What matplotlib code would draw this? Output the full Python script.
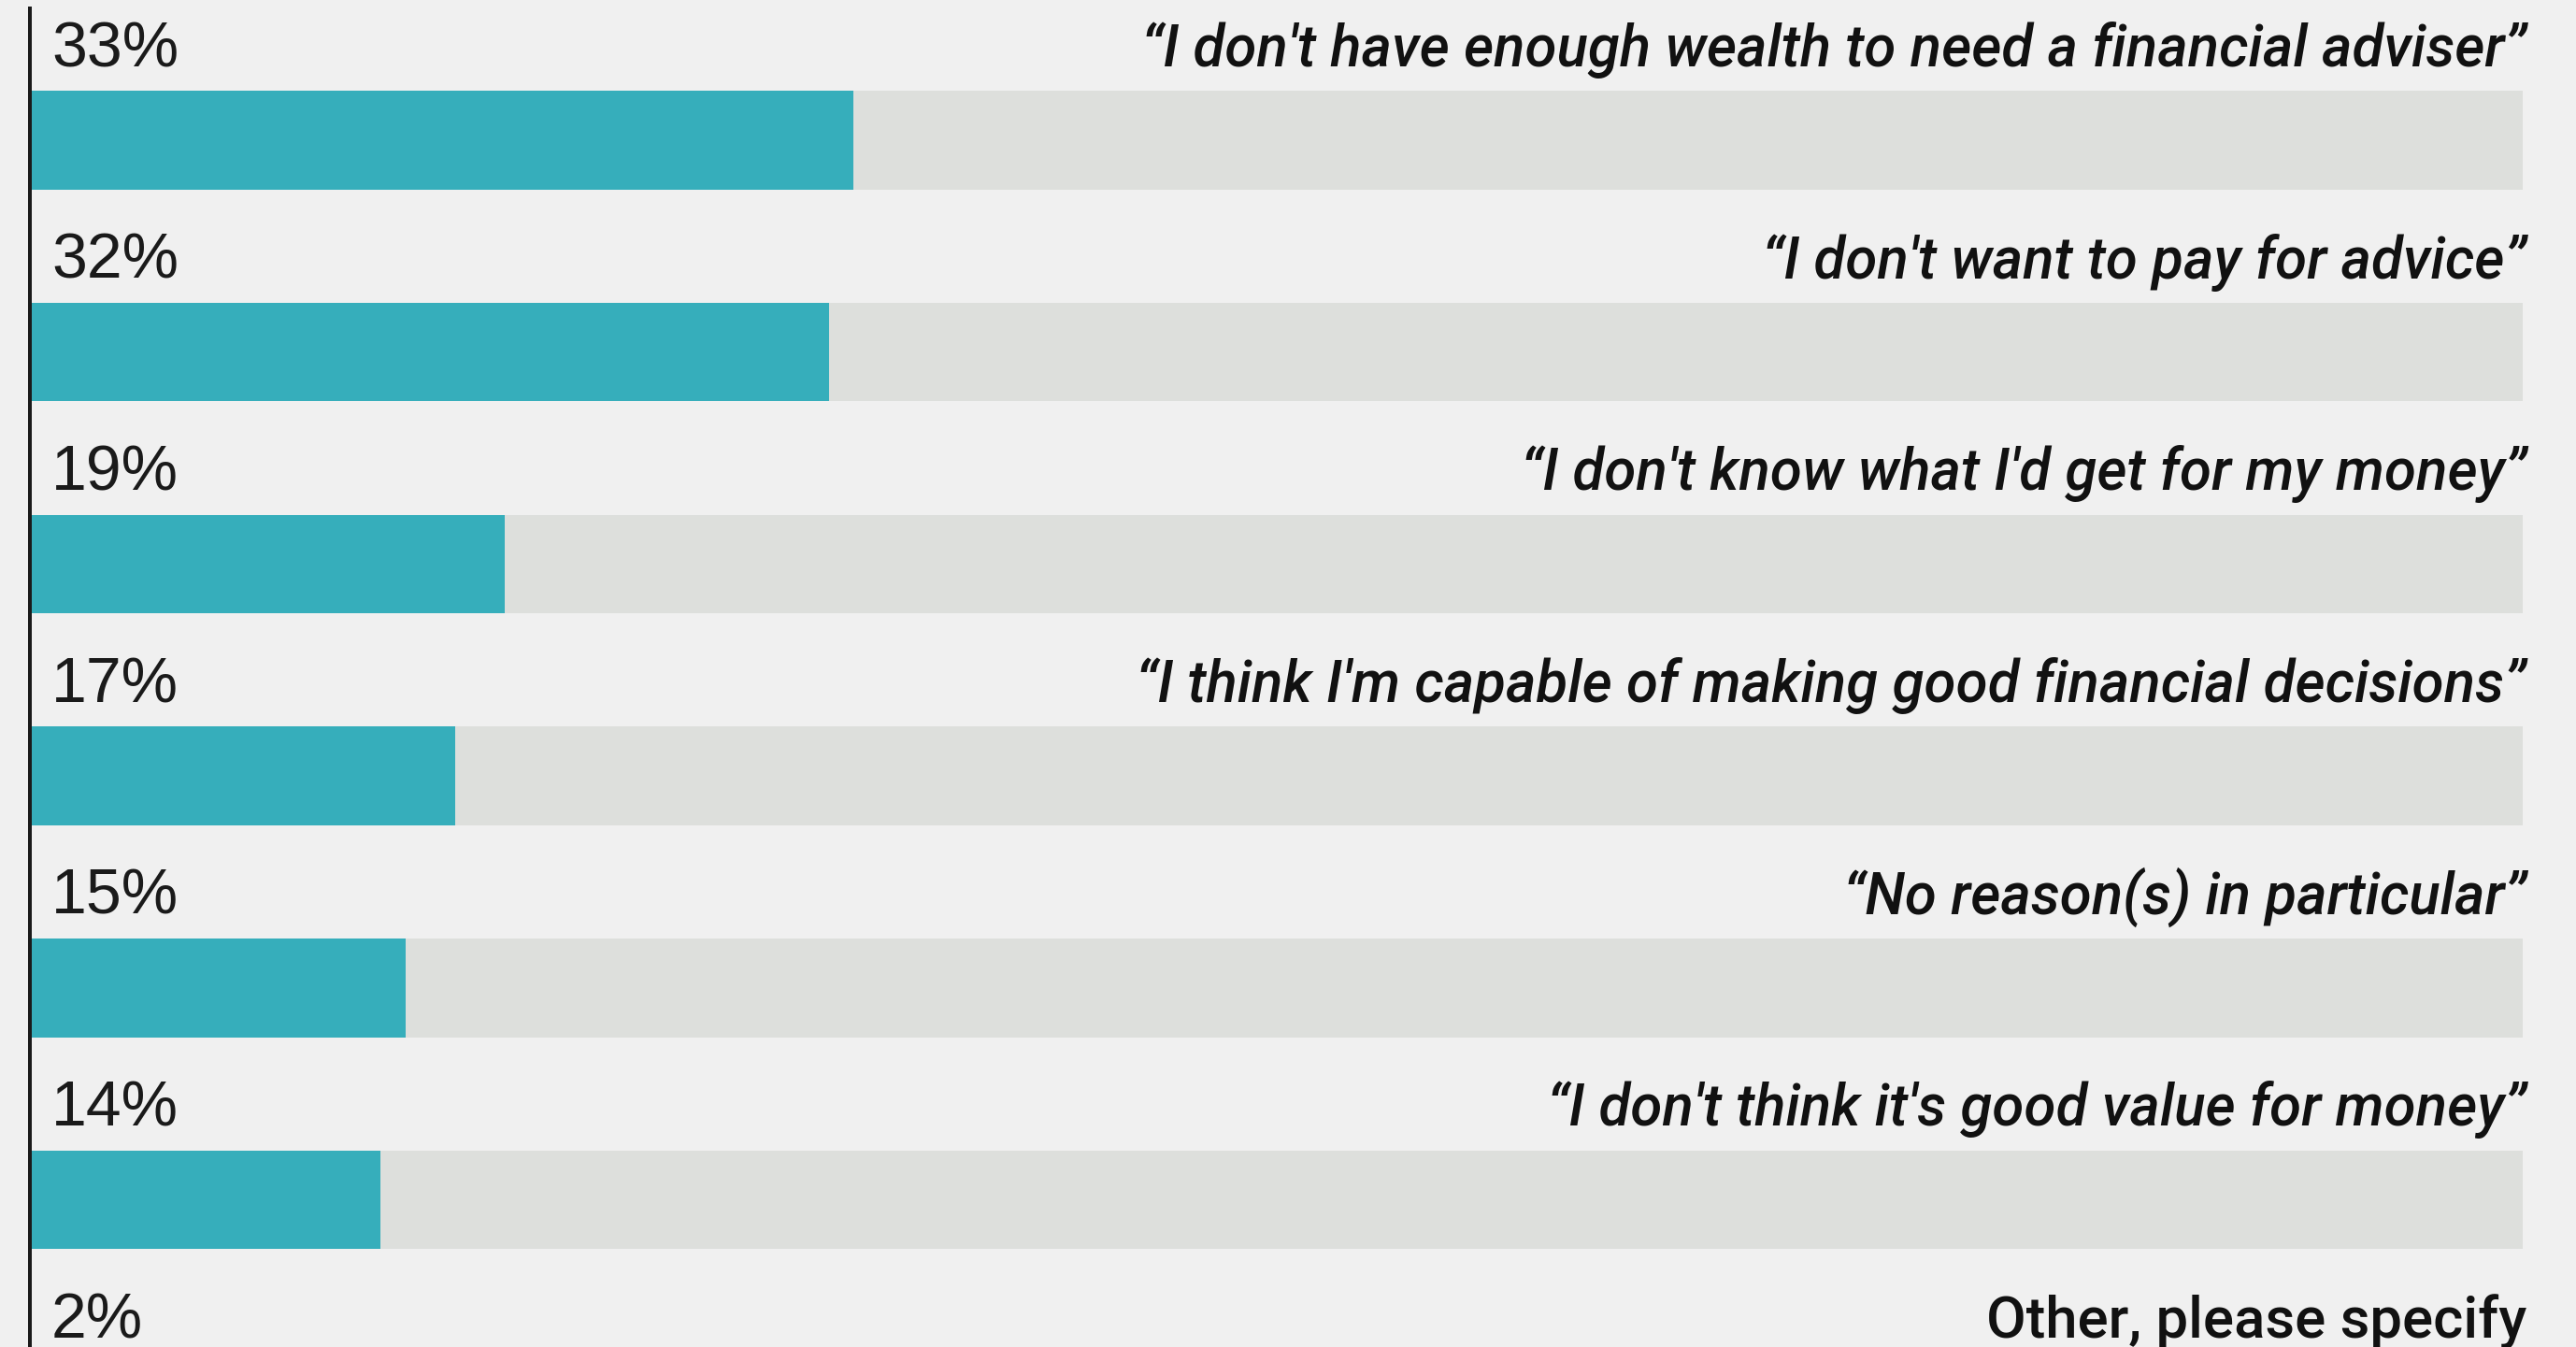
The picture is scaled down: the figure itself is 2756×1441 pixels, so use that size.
import numpy as np
import matplotlib
matplotlib.use('Agg')
import matplotlib.pyplot as plt

# survey answers, top to bottom
reasons = ['\u201cI don\'t have enough wealth to need a financial adviser\u201d',
           '\u201cI don\'t want to pay for advice\u201d',
           '\u201cI don\'t know what I\'d get for my money\u201d',
           '\u201cI think I\'m capable of making good financial decisions\u201d',
           '\u201cNo reason(s) in particular\u201d',
           '\u201cI don\'t think it\'s good value for money\u201d',
           'Other, please specify']
shares = [33, 32, 19, 17, 15, 14, 2]
italic_lbl = [True, True, True, True, True, True, False]

teal = '#36AEBB'
track = '#DDDFDC'
bg = '#F0F0F0'

W, H, dpi = 2756, 1441, 100
fig = plt.figure(figsize=(W/dpi, H/dpi), dpi=dpi)
fig.patch.set_facecolor(bg)
ax = fig.add_axes([0, 0, 1, 1])
ax.set_facecolor(bg)

# pixel geometry
x0 = 34.0        # px where 0% sits
ppp = 26.65      # px per percent
row = 226.7      # px between rows
c0 = 150.0       # px centre of first bar
ax.set_xlim(-x0/ppp, (W - x0)/ppp)
ax.set_ylim((H - c0)/row, -c0/row)

ypos = np.arange(len(shares))
ax.barh(ypos, [100]*len(shares), height=105.5/row, color=track, linewidth=0)
ax.barh(ypos, shares, height=105.5/row, color=teal, linewidth=0)

base_off = (c0 - 71)/row
for i in range(len(shares)):
    ax.text(21/ppp, ypos[i] - base_off, '%d%%' % shares[i], ha='left', va='baseline',
            fontsize=49, family='Liberation Sans', color='#1a1a1a')
    ax.text((2703 - x0)/ppp, ypos[i] - base_off, reasons[i], ha='right', va='baseline',
            fontsize=44.5, family=['Roboto', 'DejaVu Sans'], weight='medium',
            style='italic' if italic_lbl[i] else 'normal', color='#111111')

# left axis rule
ax.axvline(-2/ppp, ymin=0, ymax=1 - 9/H, color='#1a1a1a', lw=4*72/dpi)

ax.set_axis_off()
fig.savefig('out.png', dpi=dpi, facecolor=bg)
